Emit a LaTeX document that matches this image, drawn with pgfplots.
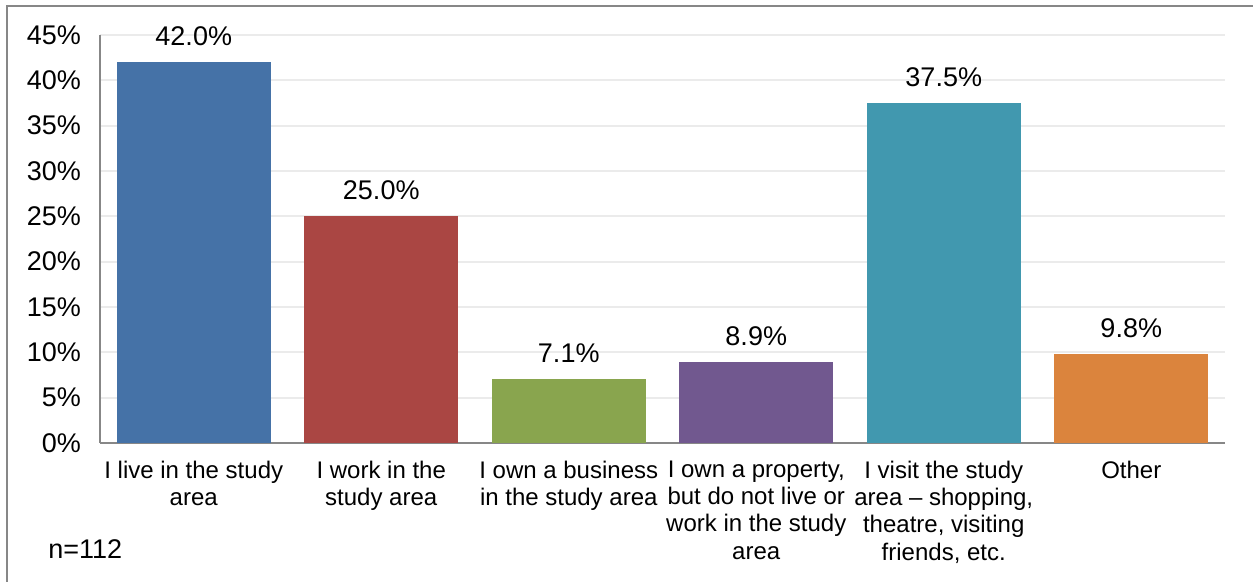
\documentclass[border=0pt]{standalone}
\usepackage{pgfplots}
\pgfplotsset{compat=1.18}
\usepackage{fontspec}
\setmainfont{Liberation Sans}
\definecolor{c1}{HTML}{4572A7}
\definecolor{c2}{HTML}{AA4643}
\definecolor{c3}{HTML}{89A54E}
\definecolor{c4}{HTML}{71588F}
\definecolor{c5}{HTML}{4198AF}
\definecolor{c6}{HTML}{DB843D}
\definecolor{axgray}{HTML}{878787}
\definecolor{gridgray}{HTML}{EBEBEB}
\begin{document}
\begin{tikzpicture}
\useasboundingbox (0,0) rectangle (626.5pt,291pt);
\draw[axgray, line width=1.2pt] (3.5pt,-10pt) -- (3.5pt,288pt) -- (640pt,288pt);
\begin{axis}[
  at={(50pt,69.5pt)}, anchor=south west,
  scale only axis, width=562.5pt, height=204pt,
  ymin=0, ymax=45, xmin=-0.5, xmax=5.5,
  ytick={0,5,...,45},
  yticklabels={0\%,5\%,10\%,15\%,20\%,25\%,30\%,35\%,40\%,45\%},
  xtick={0,1,2,3,4,5},
  xticklabels={{I live in the study\\area},{I work in the\\study area},{I own a business\\in the study area},{I own a property,\\but do not live or\\work in the study\\area},{I visit the study\\area -- shopping,\\theatre, visiting\\friends, etc.},{Other}},
  xticklabel style={align=center, font=\fontsize{12}{13.6}\selectfont, anchor=north, yshift=-5.5pt},
  yticklabel style={font=\fontsize{13.5}{15}\selectfont, xshift=-6pt},
  major tick length=0pt,
  axis x line*=bottom, axis y line*=left,
  axis line style={axgray, line width=1pt, -},
  ymajorgrids, grid style={gridgray, line width=1pt},
  ybar, bar width=0.82, bar shift=0pt,
  /pgf/number format/assume math mode=true,
  nodes near coords={\pgfmathprintnumber[fixed,fixed zerofill,precision=1]{\pgfplotspointmeta}\%},
  nodes near coords style={font=\fontsize{13.5}{15}\selectfont, anchor=south, yshift=4.5pt, text=black},
  every axis plot/.append style={draw=none},
]
\addplot[fill=c1] coordinates {(0,42.0)};
\addplot[fill=c2] coordinates {(1,25.0)};
\addplot[fill=c3] coordinates {(2,7.1)};
\addplot[fill=c4] coordinates {(3,8.9)};
\addplot[fill=c5] coordinates {(4,37.5)};
\addplot[fill=c6] coordinates {(5,9.8)};
\end{axis}
\node[anchor=base west, inner sep=0pt, font=\fontsize{13.5}{15}\selectfont] at (24pt,11.5pt) {n=112};
\end{tikzpicture}
\end{document}
